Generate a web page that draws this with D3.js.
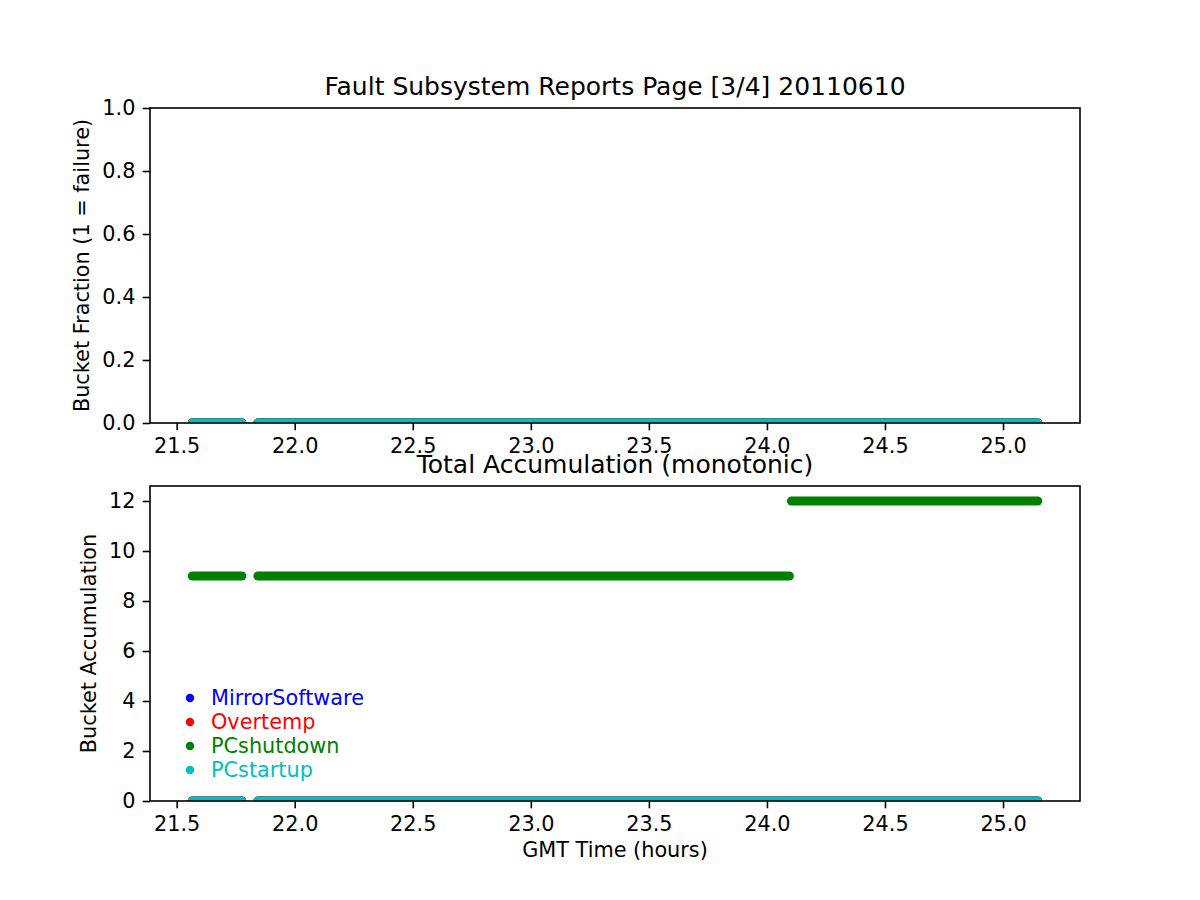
<!DOCTYPE html>
<html>
<head>
<meta charset="utf-8">
<script src="https://cdn.jsdelivr.net/npm/d3@7"></script>
<style>
  html, body { margin: 0; padding: 0; background: #fff; }
  svg { display: block; font-family: "DejaVu Sans", sans-serif; }
</style>
</head>
<body>
<svg id="chart" width="1200" height="900"></svg>
<script>
// ---- data ----
const seriesNames = ["MirrorSoftware", "Overtemp", "PCshutdown", "PCstartup"];
const seriesColors = ["#0000ff", "#ff0000", "#008000", "#00bfbf"];
// sample runs (continuous dense sampling, hours GMT)
const runStarts = [21.566, 21.844, 24.104];
const runEnds   = [21.776, 24.095, 25.147];
// top panel: bucket fraction per run
const mirrorFraction     = [0, 0, 0];
const overtempFraction   = [0, 0, 0];
const pcshutdownFraction = [0, 0, 0];
const pcstartupFraction  = [0, 0, 0];
// bottom panel: total accumulation per run
const mirrorAccum     = [0, 0, 0];
const overtempAccum   = [0, 0, 0];
const pcshutdownAccum = [9, 9, 12];
const pcstartupAccum  = [0, 0, 0];
const xTicks = [21.5, 22.0, 22.5, 23.0, 23.5, 24.0, 24.5, 25.0];
const yTicksTop = [0.0, 0.2, 0.4, 0.6, 0.8, 1.0];
const yTicksBottom = [0, 2, 4, 6, 8, 10, 12];

const fractionSeries = [mirrorFraction, overtempFraction, pcshutdownFraction, pcstartupFraction];
const accumSeries = [mirrorAccum, overtempAccum, pcshutdownAccum, pcstartupAccum];

// ---- layout ----
const svg = d3.select("#chart");
const L = 150, R = 1080;
const topPanel = { top: 108, bottom: 423 };
const botPanel = { top: 486, bottom: 801 };
const FS = 20.8, TFS = 25;
const tickLen = 7.3, tickPad = 7.3, spineW = 1.6;
const markerR = 4.5;

const x = d3.scaleLinear().domain([21.387, 25.326]).range([L, R]);
const yTop = d3.scaleLinear().domain([0, 1]).range([topPanel.bottom, topPanel.top]);
const yBot = d3.scaleLinear().domain([0, 12.6]).range([botPanel.bottom, botPanel.top]);

function drawPanel(panel, y, yTicks, yFmt, seriesList, clipId) {
  const g = svg.append("g");
  g.append("defs").append("clipPath").attr("id", clipId)
    .append("rect").attr("x", L).attr("y", panel.top)
    .attr("width", R - L).attr("height", panel.bottom - panel.top);

  const dataG = g.append("g").attr("clip-path", `url(#${clipId})`);
  seriesList.forEach((vals, si) => {
    const runs = runStarts.map((s, i) => ({ s, e: runEnds[i], v: vals[i] }));
    dataG.selectAll(null).data(runs).enter().append("line")
      .attr("x1", d => x(d.s)).attr("x2", d => x(d.e))
      .attr("y1", d => y(d.v)).attr("y2", d => y(d.v))
      .attr("stroke", seriesColors[si])
      .attr("stroke-width", markerR * 2)
      .attr("stroke-linecap", "round");
  });

  // x axis
  const xAxis = d3.axisBottom(x).tickValues(xTicks).tickFormat(d3.format(".1f"))
    .tickSize(tickLen).tickPadding(tickPad);
  const xg = g.append("g").attr("transform", `translate(0,${panel.bottom})`).call(xAxis);
  // y axis
  const yAxis = d3.axisLeft(y).tickValues(yTicks).tickFormat(yFmt)
    .tickSize(tickLen).tickPadding(tickPad);
  const yg = g.append("g").attr("transform", `translate(${L},0)`).call(yAxis);
  [xg, yg].forEach(ax => {
    ax.select(".domain").remove();
    ax.selectAll(".tick line").attr("stroke", "#000").attr("stroke-width", spineW);
    ax.selectAll(".tick text").attr("fill", "#000").attr("font-size", FS)
      .attr("font-family", "DejaVu Sans, sans-serif");
  });
  xg.selectAll(".tick text").attr("dy", "0.76em");

  // spines (frame)
  g.append("rect").attr("x", L).attr("y", panel.top)
    .attr("width", R - L).attr("height", panel.bottom - panel.top)
    .attr("fill", "none").attr("stroke", "#000").attr("stroke-width", spineW);
  return g;
}

drawPanel(topPanel, yTop, yTicksTop, d3.format(".1f"), fractionSeries, "clipTop");
const gb = drawPanel(botPanel, yBot, yTicksBottom, d3.format("d"), accumSeries, "clipBot");

// titles
svg.append("text").attr("x", (L + R) / 2).attr("y", topPanel.top - 13)
  .attr("text-anchor", "middle").attr("font-size", TFS).attr("fill", "#000")
  .text("Fault Subsystem Reports Page [3/4] 20110610");
svg.append("text").attr("x", (L + R) / 2).attr("y", botPanel.top - 13)
  .attr("text-anchor", "middle").attr("font-size", TFS).attr("fill", "#000")
  .text("Total Accumulation (monotonic)");

// axis labels
svg.append("text").attr("transform", `translate(89,${(topPanel.top + topPanel.bottom) / 2}) rotate(-90)`)
  .attr("text-anchor", "middle").attr("font-size", FS).attr("fill", "#000")
  .text("Bucket Fraction (1 = failure)");
svg.append("text").attr("transform", `translate(96,${(botPanel.top + botPanel.bottom) / 2}) rotate(-90)`)
  .attr("text-anchor", "middle").attr("font-size", FS).attr("fill", "#000")
  .text("Bucket Accumulation");
svg.append("text").attr("x", (L + R) / 2).attr("y", 857)
  .attr("text-anchor", "middle").attr("font-size", FS).attr("fill", "#000")
  .text("GMT Time (hours)");

// legend
const legendTop = 698, legendStep = 24;
const lg = svg.append("g");
seriesNames.forEach((name, i) => {
  const cy = legendTop + i * legendStep;
  lg.append("circle").attr("cx", 190).attr("cy", cy).attr("r", 4.2).attr("fill", seriesColors[i]);
  lg.append("text").attr("x", 211).attr("y", cy).attr("dy", "0.36em")
    .attr("font-size", FS).attr("fill", seriesColors[i]).text(name);
});
</script>
</body>
</html>
